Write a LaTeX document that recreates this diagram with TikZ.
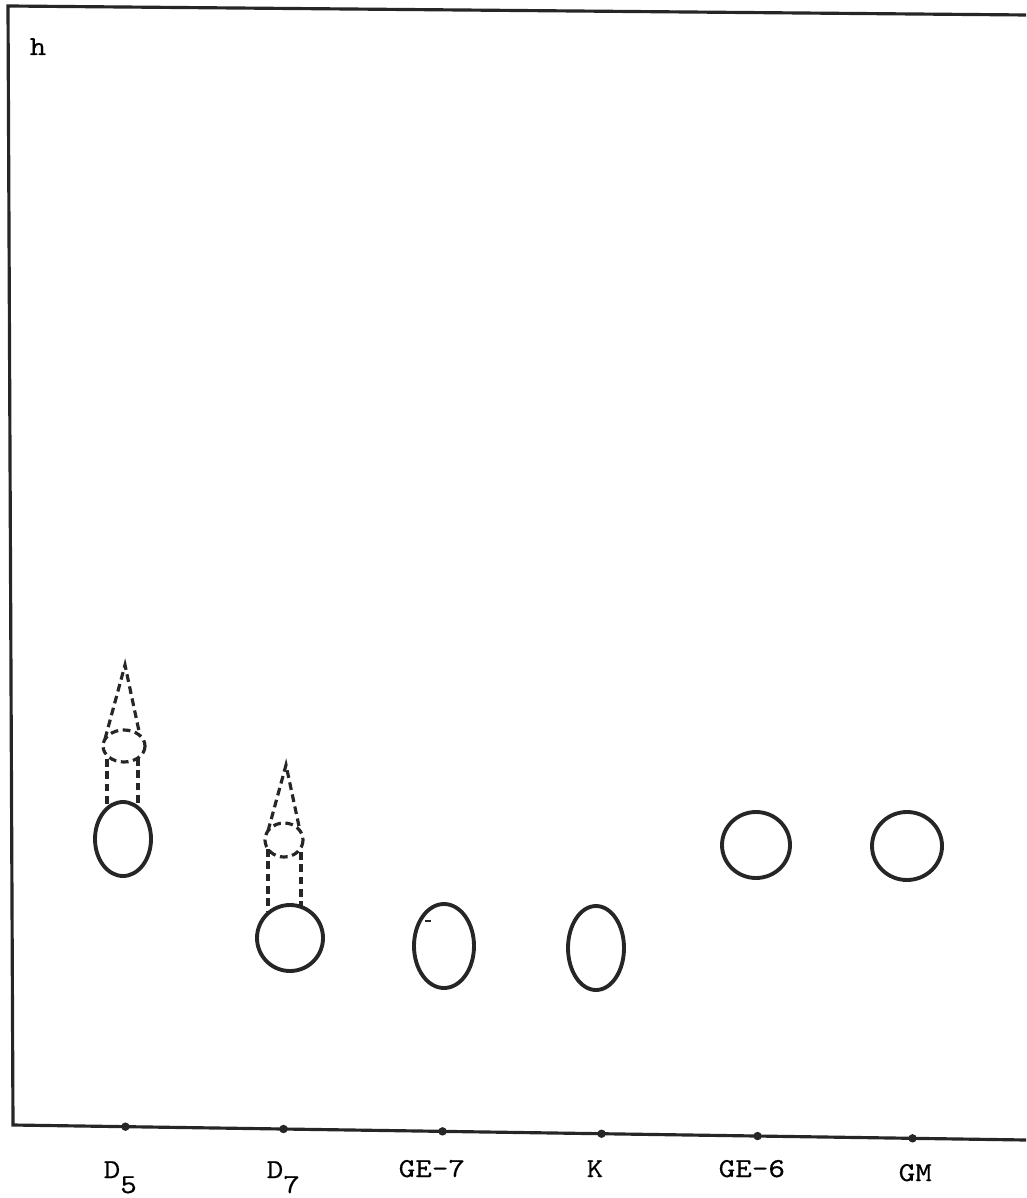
\documentclass[tikz,border=0pt]{standalone}
\usepackage{fontspec}
\newfontfamily\typewriter[FakeStretch=1.15, FakeBold=0.3]{lmmono10-regular.otf}
\usetikzlibrary{calc}
\colorlet{inkline}{black!85}
\newcommand{\lanetext}{\typewriter\fontsize{7.8}{9}\selectfont}

\begin{document}
\begin{tikzpicture}[x=0.01cm, y=-0.01cm,
    spotline/.style={draw=inkline, line width=1.1pt},
    trailline/.style={draw=inkline, line width=0.9pt, dash pattern=on 2.2pt off 1.3pt},
    lane/.style={font=\lanetext, anchor=base west, inner sep=0pt}]
    \useasboundingbox (0,0) rectangle (1026,1198);

    % plate edges (no right edge)
    \coordinate (tl) at (8,6);
    \coordinate (tr) at (1026,15);
    \coordinate (bl) at (13,1125);
    \coordinate (br) at (1026,1140);
    \draw[inkline, line width=0.9pt] (tr) -- (tl) -- (bl) -- (br);
    \node[lane] (plate) at (29,55) {h};

    % D5: spot with dashed trail
    \draw[spotline] (123,839) ellipse [x radius=28, y radius=37];
    \draw[trailline] (124,746) ellipse [x radius=21, y radius=16];
    \draw[trailline] (105,739) -- (125,665) -- (140,736);
    \draw[trailline] (107,759) -- (107,806);
    \draw[trailline] (138,758) -- (138,806);

    % D7: spot with dashed trail
    \draw[spotline] (290,938) ellipse [x radius=33, y radius=33];
    \draw[trailline] (284,840) ellipse [x radius=19, y radius=17];
    \draw[trailline] (268,831) -- (286,765) -- (300,831);
    \draw[trailline] (268,849) -- (268,911);
    \draw[trailline] (301,852) -- (301,907);

    % GE-7, K, GE-6, GM: single spots
    \draw[spotline] (444,946) ellipse [x radius=30, y radius=42];
    \draw[inkline, line width=0.7pt] (425,921) -- (431,921);
    \draw[spotline] (596,948) ellipse [x radius=28, y radius=42];
    \draw[spotline] (756,845) ellipse [x radius=34, y radius=33];
    \draw[spotline] (907,846) ellipse [x radius=35, y radius=34];

    % origin marks on the base line
    \foreach \t/\nm in {0.111/dfive, 0.267/dseven, 0.424/gseven,
                        0.581/k, 0.735/gsix, 0.888/gm} {
      \path ($(bl)!\t!(br)$) coordinate (tick-\nm);
      \fill[inkline] (tick-\nm) circle [radius=1.2pt];
    }

    % lane labels
    \node[lane] (lab-dfive)  at (103,1178) {D\raisebox{-0.15cm}{5}};
    \node[lane] (lab-dseven) at (266,1178) {D\raisebox{-0.15cm}{7}};
    \node[lane] (lab-gseven) at (398,1177) {GE–7};
    \node[lane] (lab-k)      at (586,1177) {K};
    \node[lane] (lab-gsix)   at (718,1177) {GE–6};
    \node[lane] (lab-gm)     at (898,1181) {GM};
\end{tikzpicture}
\end{document}
